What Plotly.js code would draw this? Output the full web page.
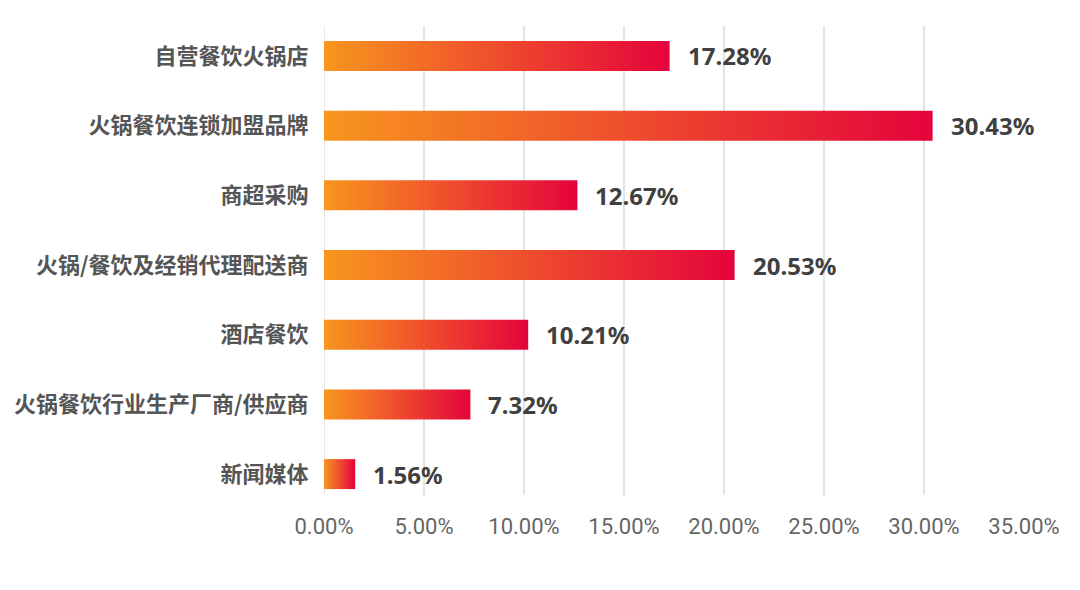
<!DOCTYPE html>
<html>
<head>
<meta charset="utf-8">
<script src="https://cdn.plot.ly/plotly-3.0.1.min.js"></script>
<style>html,body{margin:0;padding:0;background:#fff;}#chart{width:1080px;height:590px;}</style>
</head>
<body>
<div id="chart"></div>
<script>
var categories = ["自营餐饮火锅店", "火锅餐饮连锁加盟品牌", "商超采购", "火锅/餐饮及经销代理配送商", "酒店餐饮", "火锅餐饮行业生产厂商/供应商", "新闻媒体"];
var values = [17.28, 30.43, 12.67, 20.53, 10.21, 7.32, 1.56];
var xTickVals = [0, 5, 10, 15, 20, 25, 30, 35];
var xTickText = ["0.00%", "5.00%", "10.00%", "15.00%", "20.00%", "25.00%", "30.00%", "35.00%"];

var half = 0.215;
var traces = [];
var annotations = [];
values.forEach(function (v, i) {
  traces.push({
    type: 'scatter',
    mode: 'lines',
    x: [0, v, v, 0, 0],
    y: [i - half, i - half, i + half, i + half, i - half],
    fill: 'toself',
    line: {width: 0, color: 'rgba(0,0,0,0)'},
    fillgradient: {type: 'horizontal', colorscale: [[0, '#F8961E'], [1, '#E5033C']]},
    hoverinfo: 'text',
    text: categories[i] + ': ' + v.toFixed(2) + '%',
    showlegend: false
  });
  annotations.push({
    x: v, y: i, xref: 'x', yref: 'y',
    text: v.toFixed(2) + '%',
    showarrow: false, xanchor: 'left', yanchor: 'middle', xshift: 16,
    font: {family: 'Noto Sans, sans-serif', size: 24, color: '#404040', weight: 'bold'}
  });
});

var layout = {
  width: 1080, height: 590,
  margin: {l: 324, r: 56, t: 26, b: 95},
  paper_bgcolor: '#ffffff', plot_bgcolor: '#ffffff',
  xaxis: {
    range: [0, 35], tickvals: xTickVals, ticktext: xTickText,
    showgrid: true, gridcolor: '#e3e3e3', gridwidth: 1.5,
    zeroline: false, showline: false,
    ticks: 'outside', ticklen: 12, tickcolor: 'rgba(0,0,0,0)',
    tickfont: {family: 'Roboto, sans-serif', size: 22, color: '#666666'},
    fixedrange: true
  },
  yaxis: {
    range: [6.30, -0.43], tickvals: [0, 1, 2, 3, 4, 5, 6], ticktext: categories,
    showgrid: false, zeroline: false, showline: false,
    ticks: 'outside', ticklen: 10, tickcolor: 'rgba(0,0,0,0)',
    tickfont: {family: 'Noto Sans CJK SC, sans-serif', size: 22, color: '#555555', weight: 'bold'},
    fixedrange: true
  },
  shapes: [{type: 'line', xref: 'x', yref: 'paper', x0: 0, x1: 0, y0: 0, y1: 1, line: {color: '#e3e3e3', width: 1.5}, layer: 'below'}],
  annotations: annotations
};

Plotly.newPlot('chart', traces, layout, {displayModeBar: false, staticPlot: true});
</script>
</body>
</html>
